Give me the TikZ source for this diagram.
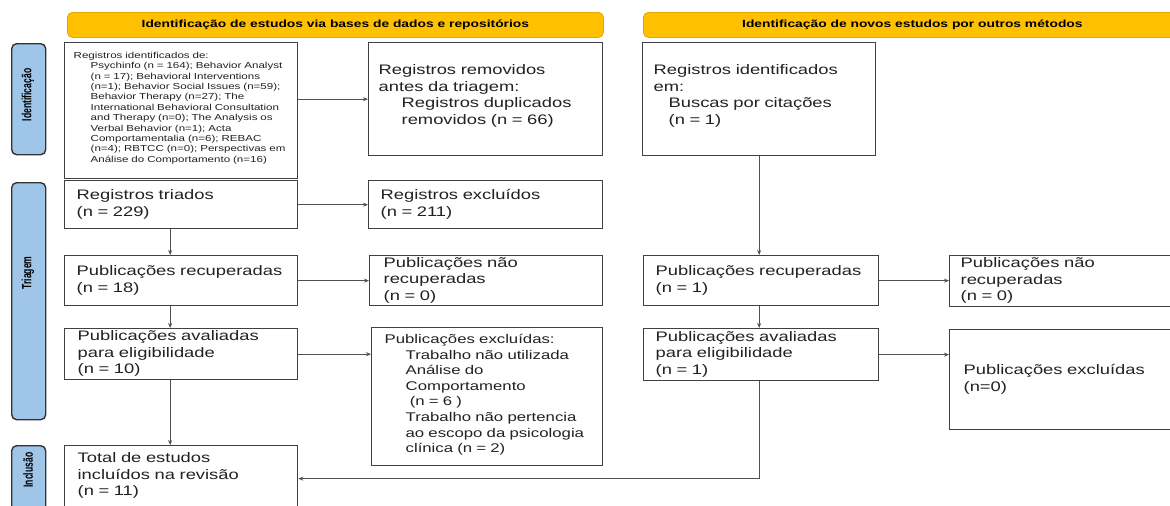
\documentclass[tikz,border=0pt]{standalone}
\usepackage{graphicx}
\usepackage{fontspec}
\setmainfont{Liberation Sans}[FakeStretch=1.33]
\newfontfamily\lblfont{Liberation Sans}
\usetikzlibrary{arrows.meta,calc}
\definecolor{hdrc}{RGB}{255,192,0}
\definecolor{hdrbd}{RGB}{225,168,0}
\definecolor{sidec}{RGB}{159,197,232}
\definecolor{sidebd}{RGB}{51,51,51}
\definecolor{boxc}{RGB}{64,64,64}
\definecolor{txtc}{RGB}{34,34,34}
\definecolor{arrc}{RGB}{80,80,80}
\newcommand\tl[1]{\begin{tabular}{@{}l@{}}#1\end{tabular}}
\newcommand\ind[1]{\hspace*{#1}}
\newcommand\dn[1]{\rule[-#1]{0pt}{1pt}}
\newcommand\mainf{\fontsize{13.8}{16.5}\selectfont}
\begin{document}
\begin{tikzpicture}[x=1pt,y=-1pt,
 bx/.style={draw=boxc, line width=1.3pt, anchor=north west, inner ysep=0pt, inner xsep=12pt, align=left, text=txtc, font=\mainf},
 hdr/.style={fill=hdrc, draw=hdrbd, line width=0.8pt, rounded corners=5pt, anchor=north west, minimum height=25pt, inner sep=0pt, font=\bfseries\fontsize{10.4}{12}\selectfont},
 side/.style={fill=sidec, draw=sidebd, line width=1.4pt, rounded corners=5pt, anchor=north west, minimum width=34pt, inner sep=0pt},
 sidetxt/.style={rotate=90, font=\lblfont\bfseries\fontsize{8.6}{10}\selectfont, inner sep=0pt},
 arr/.style={draw=arrc, line width=0.9pt, -{Stealth[length=5pt,width=4pt]}},
]
\useasboundingbox (0,0) rectangle (1170,506);
\clip (0,0) rectangle (1170,506);
\fill[white] (0,0) rectangle (1170,506);

% headers
\node[hdr, minimum width=536pt] (h1) at (67,12) {Identificação de estudos via bases de dados e repositórios};
\node[hdr, minimum width=538pt] (h2) at (643,12) {Identificação de novos estudos por outros métodos};

% side labels
\node[side, minimum height=111pt] (s1) at (11,43) {};
\node[sidetxt] (s1t) at (28,95) {\scalebox{1}[1.55]{Identificação}};
\node[side, minimum height=237pt] (s2) at (11,182) {};
\node[sidetxt] (s2t) at (28,273) {\scalebox{1}[1.55]{Triagem}};
\node[side, minimum height=80pt] (s3) at (11,445) {};
\node[sidetxt] (s3t) at (28,470) {\scalebox{1}[1.55]{Inclusão}};

% left column
\node[bx, minimum width=233pt, minimum height=136pt, inner xsep=9pt, text width=215pt, font=\fontsize{8.7}{10.4}\selectfont] (A) at (64,42)
 {\tl{Registros identificados de:\\
 \ind{17pt}Psychinfo (n = 164); Behavior Analyst\\
 \ind{17pt}(n = 17); Behavioral Interventions\\
 \ind{17pt}(n=1); Behavior Social Issues (n=59);\\
 \ind{17pt}Behavior Therapy (n=27); The\\
 \ind{17pt}International Behavioral Consultation\\
 \ind{17pt}and Therapy (n=0); The Analysis os\\
 \ind{17pt}Verbal Behavior (n=1); Acta\\
 \ind{17pt}Comportamentalia (n=6); REBAC\\
 \ind{17pt}(n=4); RBTCC (n=0); Perspectivas em\\
 \ind{17pt}Análise do Comportamento (n=16)\dn{8pt}}};
\node[bx, minimum width=234pt, minimum height=113pt, inner xsep=10pt, text width=214pt] (B) at (368,42)
 {\tl{Registros removidos\\antes da triagem:\\\ind{23pt}Registros duplicados\\\ind{23pt}removidos (n = 66)\dn{11pt}}};
\node[bx, minimum width=233pt, minimum height=48pt, text width=209pt] (C) at (64,180)
 {\tl{Registros triados\\(n = 229)}};
\node[bx, minimum width=234pt, minimum height=48pt, text width=210pt] (D) at (368,180)
 {\tl{Registros excluídos\\(n = 211)}};
\node[bx, minimum width=233pt, minimum height=50pt, text width=209pt] (E) at (64,255)
 {\tl{Publicações recuperadas\\(n = 18)}};
\node[bx, minimum width=233pt, minimum height=50pt, inner xsep=14pt, text width=205pt] (F) at (369,255)
 {\tl{Publicações não\\recuperadas\\(n = 0)}};
\node[bx, minimum width=233pt, minimum height=51pt, inner xsep=13pt, text width=207pt] (G) at (64,328)
 {\tl{Publicações avaliadas\\para eligibilidade\\(n = 10)}};
\node[bx, minimum width=231pt, minimum height=138pt, inner xsep=13pt, text width=205pt, font=\fontsize{12.6}{15.6}\selectfont] (H) at (371,327)
 {\tl{Publicações excluídas:\\
 \ind{21pt}Trabalho não utilizada\\
 \ind{21pt}Análise do\\
 \ind{21pt}Comportamento\\
 \ind{21pt} (n = 6 )\\
 \ind{21pt}Trabalho não pertencia\\
 \ind{21pt}ao escopo da psicologia\\
 \ind{21pt}clínica (n = 2)\dn{8pt}}};
\node[bx, minimum width=233pt, minimum height=66pt, inner xsep=13pt, text width=207pt] (I) at (64,445)
 {\tl{Total de estudos\\incluídos na revisão\\(n = 11)\dn{10pt}}};

% right column
\node[bx, minimum width=233pt, minimum height=113pt, inner xsep=11pt, text width=211pt] (J) at (642,42)
 {\tl{Registros identificados\\em:\\\ind{15pt}Buscas por citações\\\ind{15pt}(n = 1)\dn{11pt}}};
\node[bx, minimum width=235pt, minimum height=50pt, text width=211pt] (K) at (643,255)
 {\tl{Publicações recuperadas\\(n = 1)}};
\node[bx, minimum width=231pt, minimum height=51pt, inner xsep=11pt, text width=209pt] (L) at (949,255)
 {\tl{Publicações não\\recuperadas\\(n = 0)}};
\node[bx, minimum width=235pt, minimum height=52pt, text width=211pt] (M) at (643,328)
 {\tl{Publicações avaliadas\\para eligibilidade\\(n = 1)}};
\node[bx, minimum width=231pt, minimum height=100pt, inner xsep=14pt, text width=203pt] (N) at (949,329)
 {\tl{Publicações excluídas\\(n=0)}};

% connectors
\draw[arr] (A.east |- B.west) -- (B.west);
\draw[arr] (C.east) -- (D.west);
\draw[arr] ([xshift=-11pt]C.south) -- ([xshift=-11pt]E.north);
\draw[arr] (E.east) -- (F.west);
\draw[arr] ([xshift=-11pt]E.south) -- ([xshift=-11pt]G.north);
\draw[arr] (G.east) -- (G.east -| H.west);
\draw[arr] ([xshift=-11pt]G.south) -- ([xshift=-11pt]I.north);
\draw[arr] (J.south) -- (J.south |- K.north);
\draw[arr] (K.east) -- (K.east -| L.west);
\draw[arr] (J.south |- K.south) -- (J.south |- M.north);
\draw[arr] (M.east) -- (M.east -| N.west);
\draw[arr] (J.south |- M.south) |- (I.east);
\end{tikzpicture}
\end{document}
